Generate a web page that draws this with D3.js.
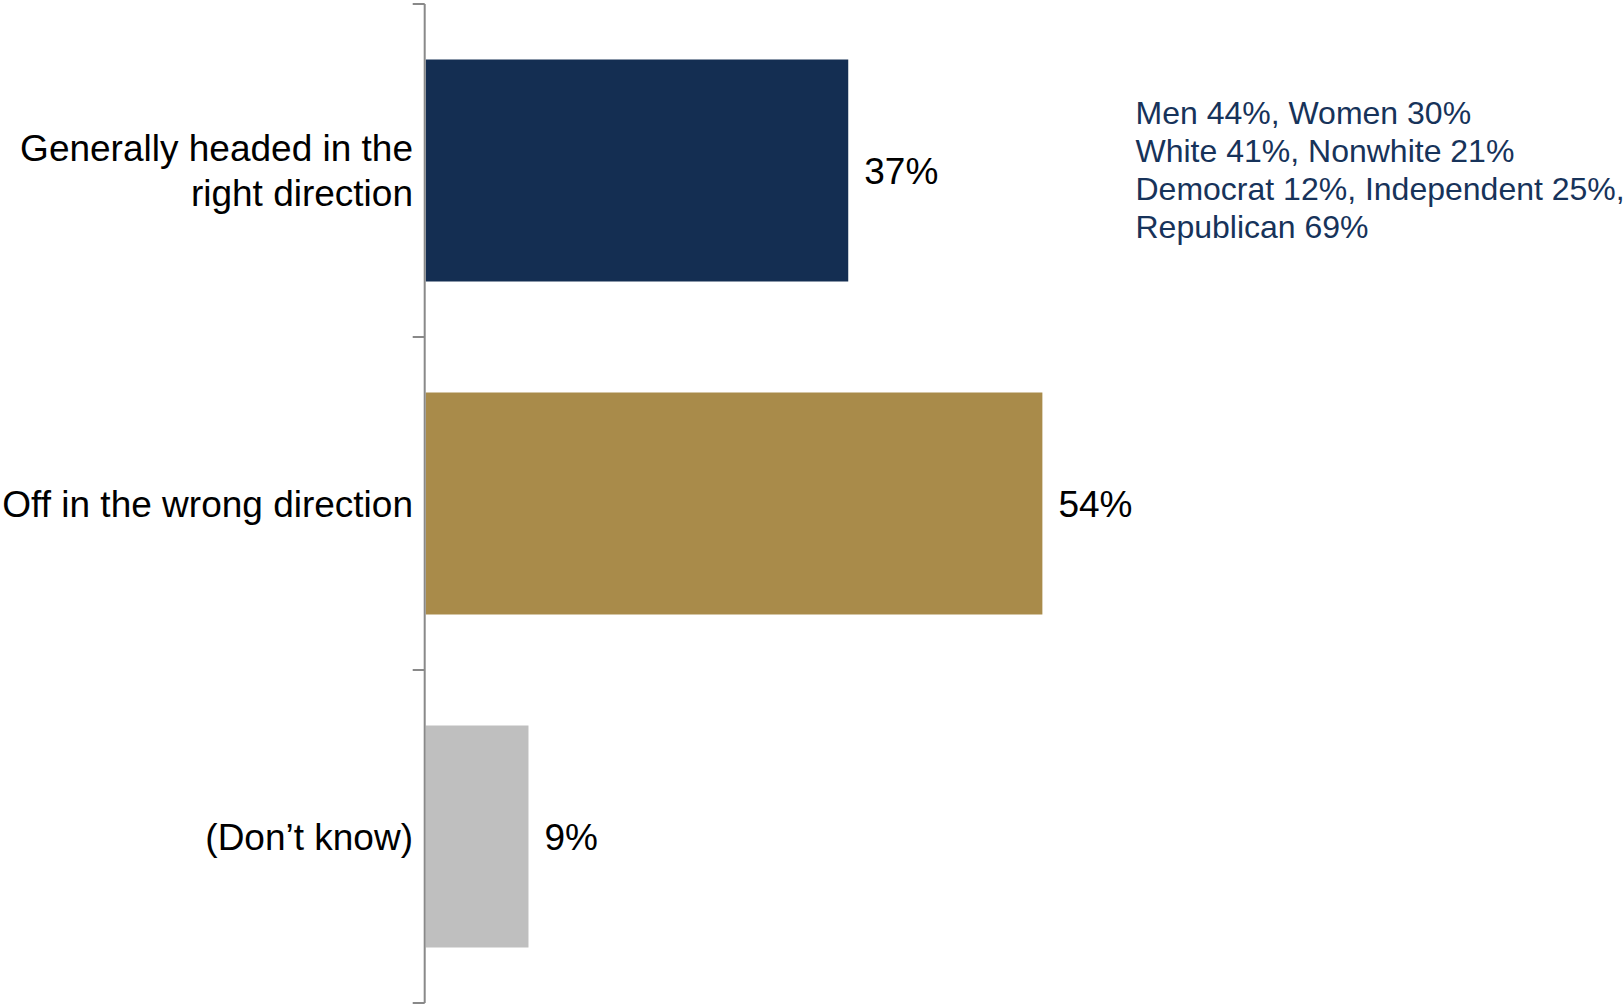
<!DOCTYPE html>
<html>
<head>
<meta charset="utf-8">
<script src="https://cdn.jsdelivr.net/npm/d3@7/dist/d3.min.js"></script>
<style>
  html, body { margin: 0; padding: 0; background: #ffffff; }
  svg { display: block; font-family: "Liberation Sans", Arial, sans-serif; }
</style>
</head>
<body>
<svg id="chart" width="1624" height="1004"></svg>
<script>
// ---- data ----
const categories = ["Generally headed in the right direction", "Off in the wrong direction", "(Don\u2019t know)"];
const labelLines = [["Generally headed in the", "right direction"], ["Off in the wrong direction"], ["(Don\u2019t know)"]];
const values = [37, 54, 9];
const valueLabels = ["37%", "54%", "9%"];
const barColors = ["#142e52", "#a98b4a", "#bfbfbf"];
const noteLines = ["Men 44%, Women 30%", "White 41%, Nonwhite 21%", "Democrat 12%, Independent 25%,", "Republican 69%"];

// ---- layout ----
const svg = d3.select("#chart");
const axisX = 424.7;
const x = d3.scaleLinear().domain([0, 100]).range([axisX + 1, axisX + 1 + 1142]);
const y = d3.scaleBand().domain(categories).range([4, 1003]).paddingInner(1/3).paddingOuter(1/6);

// bars
svg.append("g").selectAll("rect")
  .data(values)
  .join("rect")
  .attr("x", x(0))
  .attr("y", (d, i) => y(categories[i]))
  .attr("width", d => x(d) - x(0))
  .attr("height", y.bandwidth())
  .attr("fill", (d, i) => barColors[i]);

// axis line and ticks at band boundaries
const axisG = svg.append("g");
const step = y.step();
const boundaries = categories.map(c => y(c) - step * y.paddingInner() / 2);
boundaries.push(y(categories[categories.length - 1]) + y.bandwidth() + step * y.paddingInner() / 2);
axisG.append("line")
  .attr("x1", axisX).attr("x2", axisX)
  .attr("y1", boundaries[0]).attr("y2", boundaries[boundaries.length - 1])
  .attr("stroke", "#898989").attr("stroke-width", 2);
axisG.selectAll("line.tick")
  .data(boundaries)
  .join("line")
  .attr("class", "tick")
  .attr("x1", axisX - 12).attr("x2", axisX)
  .attr("y1", d => d).attr("y2", d => d)
  .attr("stroke", "#898989").attr("stroke-width", 2);

// category labels
const catG = svg.append("g");
labelLines.forEach((lines, i) => {
  const cy = y(categories[i]) + y.bandwidth() / 2;
  const lh = 44.5;
  const firstBaseline = cy + 13.2 - (lines.length - 1) * lh / 2;
  const t = catG.append("text")
    .attr("text-anchor", "end")
    .attr("font-size", 37)
    .attr("fill", "#000000");
  lines.forEach((ln, j) => {
    t.append("tspan")
      .attr("x", 413)
      .attr("y", firstBaseline + j * lh)
      .text(ln);
  });
});

// value labels
svg.append("g").selectAll("text")
  .data(values)
  .join("text")
  .attr("x", d => x(d) + 16)
  .attr("y", (d, i) => y(categories[i]) + y.bandwidth() / 2 + 13.2)
  .attr("font-size", 37)
  .attr("fill", "#000000")
  .text((d, i) => valueLabels[i]);

// annotation
const note = svg.append("text")
  .attr("font-size", 32)
  .attr("fill", "#17335a");
noteLines.forEach((ln, j) => {
  note.append("tspan")
    .attr("x", 1135.5)
    .attr("y", 124.3 + j * 37.8)
    .text(ln);
});
</script>
</body>
</html>
